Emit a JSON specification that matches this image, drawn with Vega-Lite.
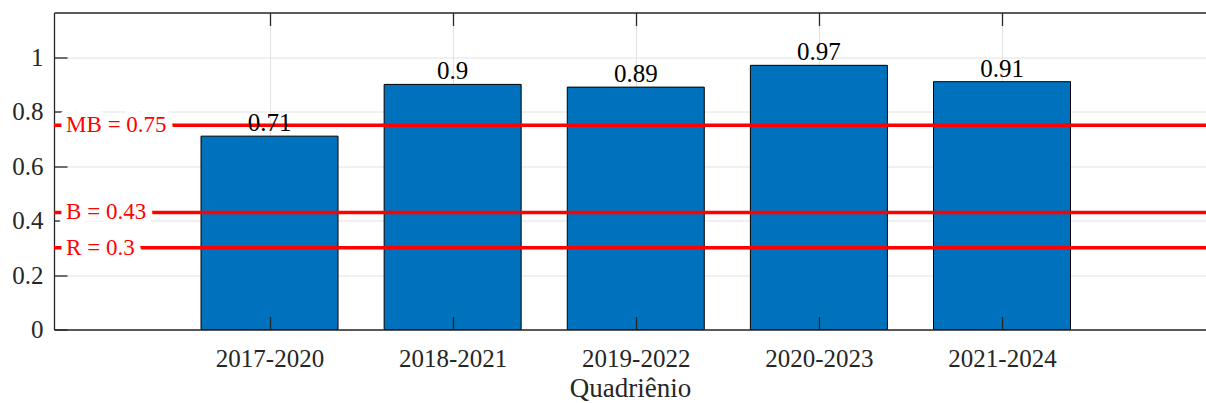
{
  "$schema": "https://vega.github.io/schema/vega-lite/v6.json",
  "width": 1152,
  "height": 317,
  "autosize": {"type": "none"},
  "padding": {"left": 54, "top": 12.5, "right": 0, "bottom": 73.5},
  "background": "white",
  "config": {
    "view": {"stroke": null},
    "font": "Liberation Serif",
    "axis": {
      "labelFont": "Liberation Serif",
      "titleFont": "Liberation Serif",
      "labelColor": "#262626",
      "titleColor": "#262626",
      "domainColor": "#262626",
      "tickColor": "#262626",
      "gridColor": "#e2e2e2",
      "gridWidth": 1,
      "domainWidth": 1.3,
      "tickWidth": 1.3,
      "titleFontWeight": "normal"
    }
  },
  "datasets": {
    "bars": [
      {"quadrienio": "2017-2020", "i": 1, "v": 0.71},
      {"quadrienio": "2018-2021", "i": 2, "v": 0.9},
      {"quadrienio": "2019-2022", "i": 3, "v": 0.89},
      {"quadrienio": "2020-2023", "i": 4, "v": 0.97},
      {"quadrienio": "2021-2024", "i": 5, "v": 0.91}
    ],
    "limits": [
      {"label": "MB = 0.75", "v": 0.75},
      {"label": "B = 0.43", "v": 0.43},
      {"label": "R = 0.3", "v": 0.3}
    ]
  },
  "resolve": {"axis": {"x": "independent"}},
  "layer": [
    {
      "data": {"name": "bars"},
      "mark": {"type": "bar", "size": 137, "fill": "#0072BD", "stroke": "#000000", "strokeWidth": 1},
      "encoding": {
        "x": {
          "field": "i", "type": "quantitative",
          "scale": {"domain": [-0.177, 6.114], "nice": false, "zero": false, "padding": 0},
          "axis": {"orient": "top", "values": [1, 2, 3, 4, 5], "grid": true, "labels": false, "domain": true, "ticks": true, "tickSize": -13, "title": null, "zindex": 0}
        },
        "y": {
          "field": "v", "type": "quantitative", "title": null,
          "scale": {"domain": [0, 1.164], "nice": false, "padding": 0},
          "axis": {"values": [0, 0.2, 0.4, 0.6, 0.8, 1], "format": "~g", "grid": true, "tickSize": -13, "labelPadding": 24, "labelFontSize": 25, "title": null, "zindex": 0}
        }
      }
    },
    {
      "data": {"name": "limits"},
      "mark": {"type": "rule", "color": "#ff0000", "strokeWidth": 3.5},
      "encoding": {
        "y": {"field": "v", "type": "quantitative", "title": null}
      }
    },
    {
      "data": {"name": "limits"},
      "mark": {"type": "text", "align": "left", "baseline": "middle", "fontSize": 23, "font": "Liberation Serif", "fill": "white", "stroke": "white", "strokeWidth": 14, "strokeJoin": "round"},
      "encoding": {
        "x": {"datum": -0.111, "type": "quantitative", "axis": null},
        "y": {"field": "v", "type": "quantitative", "title": null},
        "text": {"field": "label"}
      }
    },
    {
      "data": {"name": "limits"},
      "mark": {"type": "text", "align": "left", "baseline": "middle", "fontSize": 23, "font": "Liberation Serif", "fill": "#ff0000"},
      "encoding": {
        "x": {"datum": -0.111, "type": "quantitative", "axis": null},
        "y": {"field": "v", "type": "quantitative", "title": null},
        "text": {"field": "label"}
      }
    },
    {
      "data": {"name": "bars"},
      "mark": {"type": "text", "align": "center", "baseline": "bottom", "fontSize": 25, "font": "Liberation Serif", "fill": "#000000"},
      "encoding": {
        "x": {
          "field": "i", "type": "quantitative",
          "axis": {
            "orient": "bottom", "values": [1, 2, 3, 4, 5], "grid": false, "domain": true, "ticks": true, "tickSize": -13,
            "labelExpr": "['2017-2020','2018-2021','2019-2022','2020-2023','2021-2024'][datum.value - 1]",
            "labelFontSize": 25, "labelPadding": 30, "title": "Quadriênio", "titleFontSize": 27, "titlePadding": 3.5, "zindex": 1
          }
        },
        "y": {"field": "v", "type": "quantitative", "title": null},
        "text": {"field": "v", "type": "quantitative", "format": "~g"}
      }
    }
  ]
}
